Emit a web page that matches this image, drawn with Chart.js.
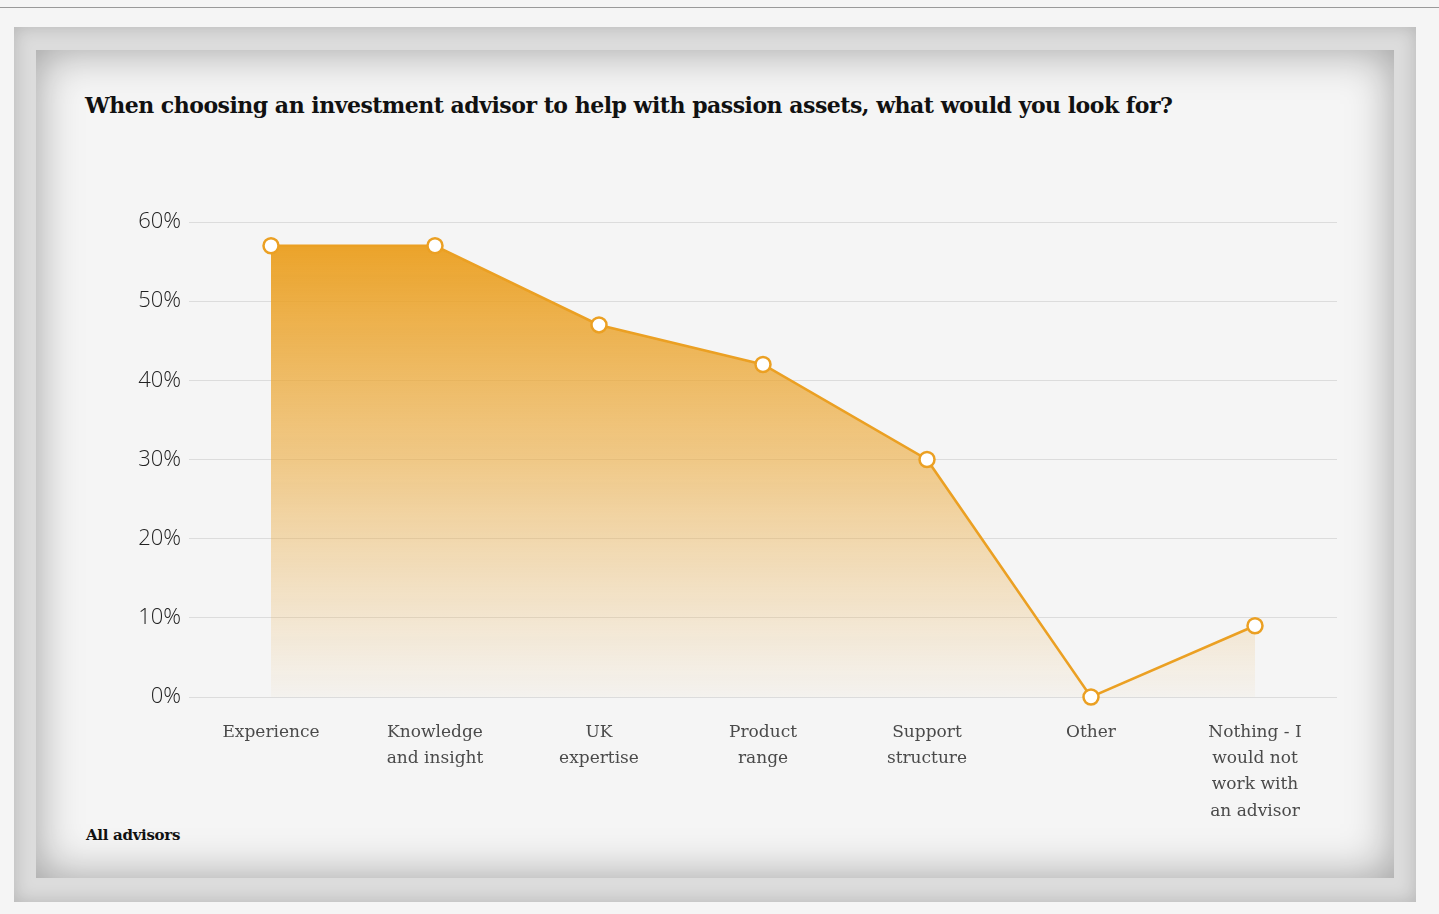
<!DOCTYPE html>
<html>
<head>
<meta charset="utf-8">
<script src="https://cdn.jsdelivr.net/npm/chart.js@4.4.1/dist/chart.umd.min.js"></script>
<style>
  html, body { margin: 0; padding: 0; }
  body {
    width: 1439px; height: 914px; position: relative; overflow: hidden;
    background: #f5f5f5;
  }
  .topline { position: absolute; left: 0; top: 7px; width: 1439px; height: 1px; background: #9a9a9a; }
  .frame {
    position: absolute; left: 14px; top: 27px; width: 1402px; height: 875px;
    background: #dcdcdc;
    box-shadow: inset 0 0 18px rgba(0,0,0,0.18);
  }
  .panel {
    position: absolute; left: 36px; top: 50px; width: 1358px; height: 828px;
    background: #f5f5f5;
    box-shadow: inset 0 0 45px rgba(0,0,0,0.36);
  }
  .title {
    position: absolute; left: 85px; top: 92px; margin: 0;
    font-family: "DejaVu Serif", serif; font-weight: bold; font-size: 22px;
    letter-spacing: -0.5px; color: #111; white-space: nowrap;
  }
  .note {
    position: absolute; left: 86px; top: 826px;
    font-family: "DejaVu Serif", serif; font-weight: bold; font-size: 15px;
    letter-spacing: -0.3px; color: #111;
  }
  .chart-box { position: absolute; left: 90px; top: 180px; width: 1270px; height: 660px; }
</style>
</head>
<body>
<div class="topline"></div>
<div class="frame"></div>
<div class="panel"></div>
<h1 class="title">When choosing an investment advisor to help with passion assets, what would you look for?</h1>
<div class="note">All advisors</div>
<div class="chart-box"><canvas id="chart"></canvas></div>

<script>
// Survey answers (share of all advisors, %)
const categories = [
  'Experience',
  ['Knowledge', 'and insight'],
  ['UK', 'expertise'],
  ['Product', 'range'],
  ['Support', 'structure'],
  'Other',
  ['Nothing - I', 'would not', 'work with', 'an advisor']
];
const shares = [57, 57, 47, 42, 30, 0, 9];
const yTicks = [0, 10, 20, 30, 40, 50, 60];

const orange = '#eba023';

// vertical fade under the line
const areaFill = (context) => {
  const { chart } = context;
  const area = chart.chartArea;
  if (!area) return 'rgba(235,160,35,0.5)';
  const g = chart.ctx.createLinearGradient(0, area.top, 0, area.bottom);
  g.addColorStop(0, 'rgba(234,158,30,1)');
  g.addColorStop(0.5, 'rgba(236,170,60,0.6)');
  g.addColorStop(1, 'rgba(236,180,90,0.04)');
  return g;
};

new Chart(document.getElementById('chart').getContext('2d'), {
  type: 'line',
  data: {
    labels: categories,
    datasets: [{
      data: shares,
      borderColor: orange,
      borderWidth: 2.6,
      backgroundColor: areaFill,
      fill: 'origin',
      tension: 0,
      clip: false,
      pointRadius: 7.5,
      pointBorderWidth: 2.5,
      pointBackgroundColor: '#ffffff',
      pointBorderColor: orange,
    }],
  },
  options: {
    responsive: true,
    maintainAspectRatio: false,
    animation: false,
    layout: { padding: { top: 42, right: 23, left: 0, bottom: 0 } },
    plugins: {
      legend: { display: false },
      tooltip: { enabled: false },
    },
    scales: {
      x: {
        offset: true,
        grid: { display: false, drawTicks: false },
        border: { display: false },
        afterFit: (scale) => { scale.height = 143; },
        ticks: {
          autoSkip: false,
          maxRotation: 0,
          padding: 22,
          color: '#4a4a4a',
          font: { family: 'DejaVu Serif', size: 17, lineHeight: 1.55 },
        },
      },
      y: {
        min: 0,
        max: 60,
        afterFit: (scale) => { scale.width = 99; },
        afterBuildTicks: (scale) => { scale.ticks = yTicks.map(v => ({ value: v })); },
        grid: { color: '#dcdcdc', lineWidth: 1, drawTicks: false },
        border: { display: false },
        ticks: {
          padding: 8,
          color: '#222222',
          font: { family: 'Open Sans', size: 22, weight: 300 },
          callback: (v) => `${v}%`,
        },
      },
    },
  },
});
</script>
</body>
</html>
